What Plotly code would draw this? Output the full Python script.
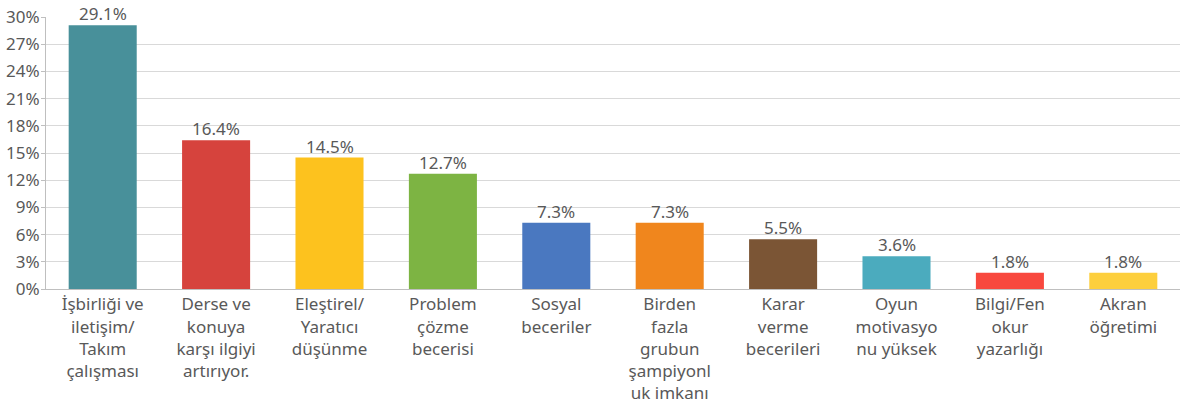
import plotly.graph_objects as go

categories = [
    "İşbirliği ve<br>iletişim/<br>Takım<br>çalışması",
    "Derse ve<br>konuya<br>karşı ilgiyi<br>artırıyor.",
    "Eleştirel/<br>Yaratıcı<br>düşünme",
    "Problem<br>çözme<br>becerisi",
    "Sosyal<br>beceriler",
    "Birden<br>fazla<br>grubun<br>şampiyonl<br>uk imkanı",
    "Karar<br>verme<br>becerileri",
    "Oyun<br>motivasyo<br>nu yüksek",
    "Bilgi/Fen<br>okur<br>yazarlığı",
    "Akran<br>öğretimi",
]
values = [29.1, 16.4, 14.5, 12.7, 7.3, 7.3, 5.5, 3.6, 1.8, 1.8]
colors = ["#48909A", "#D6433D", "#FDC21E", "#7DB443", "#4A78C0",
          "#F0861D", "#7B5535", "#4BABBE", "#F8483E", "#FDCF3D"]
y_ticks = [0, 3, 6, 9, 12, 15, 18, 21, 24, 27, 30]

font = "Noto Sans, Open Sans, sans-serif"

fig = go.Figure()
fig.add_trace(go.Bar(
    x=categories, y=values,
    marker=dict(color=colors, line=dict(width=0)),
))
# value labels sit right on top of the bars
for c, v in zip(categories, values):
    fig.add_annotation(
        x=c, y=v, text=f"{v:.1f}%", showarrow=False,
        yanchor="bottom", yshift=-2,
        font=dict(size=17, color="#595959", family=font),
    )
fig.update_layout(
    width=1198, height=410,
    margin=dict(l=46, r=18, t=17, b=121),
    plot_bgcolor="white", paper_bgcolor="white",
    bargap=0.4,
    showlegend=False,
    font=dict(family=font, size=17, color="#595959"),
    yaxis=dict(
        range=[0, 30], tickvals=y_ticks,
        ticktext=[f"{t}%" for t in y_ticks],
        showgrid=True, gridcolor="#D9D9D9", gridwidth=1,
        showline=True, linecolor="#BFBFBF", linewidth=1,
        ticks="outside", ticklen=4, tickcolor="#BFBFBF",
        tickfont=dict(size=17, color="#595959"),
        ticklabelstandoff=-2, ticklabeloverflow="allow",
        zeroline=False, automargin=False,
    ),
    xaxis=dict(
        showline=True, linecolor="#BFBFBF", linewidth=1,
        tickfont=dict(size=17, color="#595959"),
        tickangle=0, automargin=False,
    ),
)
# drop the default 8px body margin so the figure fills the window
fig.write_html("out.html", config={"displayModeBar": False},
               post_script="document.body.style.margin='0';")
